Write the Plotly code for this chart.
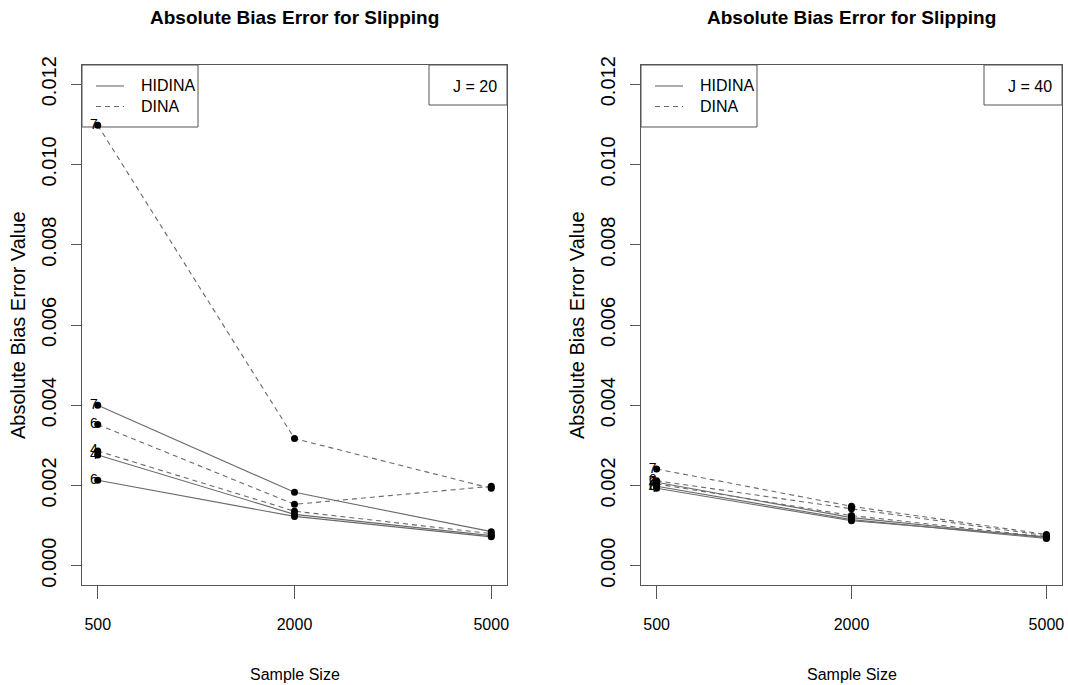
import plotly.graph_objects as go

# ---------------- data ----------------
sample_sizes = ["500", "2000", "5000"]
k_labels = ["7", "6", "4"]

# J = 20
hidina_j20_k7 = [0.00400, 0.00183, 0.00085]
hidina_j20_k6 = [0.00213, 0.00123, 0.00072]
hidina_j20_k4 = [0.00276, 0.00128, 0.00075]
dina_j20_k7 = [0.01098, 0.00317, 0.00193]
dina_j20_k6 = [0.00352, 0.00153, 0.00198]
dina_j20_k4 = [0.00286, 0.00136, 0.00080]

# J = 40
hidina_j40_k7 = [0.00208, 0.00120, 0.00070]
hidina_j40_k6 = [0.00198, 0.00115, 0.00068]
hidina_j40_k4 = [0.00193, 0.00112, 0.00072]
dina_j40_k7 = [0.00241, 0.00148, 0.00078]
dina_j40_k6 = [0.00212, 0.00142, 0.00075]
dina_j40_k4 = [0.00204, 0.00125, 0.00072]

y_ticks = [0.000, 0.002, 0.004, 0.006, 0.008, 0.010, 0.012]
titles = ["Absolute Bias Error for Slipping", "Absolute Bias Error for Slipping"]
j_labels = ["J = 20", "J = 40"]
legend_names = ["HIDINA", "DINA"]

# ---------------- style ----------------
W, H = 1068, 685
FONT = "Liberation Sans, Arial, sans-serif"
LINE_COL = "#6a6a6a"
BOX_COL = "#555555"
DASH = "5px,4px"

px_l = (82, 507)
px_r = (641, 1062)
py = (65, 585)

fig = go.Figure()

panels = [
    dict(xa="x", ya="y",
         hid=[hidina_j20_k7, hidina_j20_k6, hidina_j20_k4],
         din=[dina_j20_k7, dina_j20_k6, dina_j20_k4]),
    dict(xa="x2", ya="y2",
         hid=[hidina_j40_k7, hidina_j40_k6, hidina_j40_k4],
         din=[dina_j40_k7, dina_j40_k6, dina_j40_k4]),
]

for p in panels:
    for series_list, dash in ((p["hid"], "solid"), (p["din"], DASH)):
        for k, vals in zip(k_labels, series_list):
            fig.add_trace(go.Scatter(
                x=sample_sizes, y=vals, mode="lines", xaxis=p["xa"], yaxis=p["ya"],
                line=dict(color=LINE_COL, width=1.1, dash=dash),
                showlegend=False, hoverinfo="skip"))
    for series_list in (p["hid"], p["din"]):
        for k, vals in zip(k_labels, series_list):
            fig.add_trace(go.Scatter(
                x=sample_sizes, y=vals, mode="markers", xaxis=p["xa"], yaxis=p["ya"],
                marker=dict(color="black", size=7, line=dict(width=0)),
                showlegend=False))
            fig.add_trace(go.Scatter(
                x=sample_sizes[:1], y=vals[:1], mode="text", text=[k],
                textposition="middle left", xaxis=p["xa"], yaxis=p["ya"],
                textfont=dict(family=FONT, size=14, color="black"),
                showlegend=False))

axis_common = dict(showgrid=False, zeroline=False, showline=True, mirror=True,
                   linecolor=BOX_COL, linewidth=1, ticks="outside",
                   tickcolor=BOX_COL, tickwidth=1, automargin=False)

xaxis_common = dict(type="category", categoryorder="array", categoryarray=sample_sizes,
                    range=[-0.08, 2.08], ticklen=13, ticklabelstandoff=12,
                    tickfont=dict(family=FONT, size=16, color="black"), **axis_common)
yaxis_common = dict(domain=[1 - py[1] / H, 1 - py[0] / H], range=[-0.00048, 0.01248],
                    tickvals=y_ticks, tickformat=".3f", tickangle=-90, ticklen=10,
                    ticklabelstandoff=7,
                    tickfont=dict(family=FONT, size=20, color="black"), **axis_common)

fig.update_layout(
    width=W, height=H, margin=dict(l=0, r=0, t=0, b=0, autoexpand=False),
    plot_bgcolor="white", paper_bgcolor="white", showlegend=False,
    xaxis=dict(domain=[px_l[0] / W, px_l[1] / W], anchor="y", **xaxis_common),
    xaxis2=dict(domain=[px_r[0] / W, px_r[1] / W], anchor="y2", **xaxis_common),
    yaxis=dict(anchor="x", **yaxis_common),
    yaxis2=dict(anchor="x2", **yaxis_common),
)

shapes = []
annots = []
for i, (pxr, xa, ya) in enumerate(((px_l, "x", "y"), (px_r, "x2", "y2"))):
    x0, x1 = pxr
    cx = (x0 + x1) / 2
    pw = x1 - x0
    ph = py[1] - py[0]
    xd, yd = f"{xa} domain", f"{ya} domain"
    # title
    annots.append(dict(text=f"<b>{titles[i]}</b>", x=cx / W, y=1 - 18 / H,
                       xref="paper", yref="paper", showarrow=False,
                       font=dict(family=FONT, size=19, color="black"),
                       xanchor="center", yanchor="middle"))
    # x title
    annots.append(dict(text="Sample Size", x=cx / W, y=1 - 674 / H,
                       xref="paper", yref="paper", showarrow=False,
                       font=dict(family=FONT, size=16, color="black"),
                       xanchor="center", yanchor="middle"))
    # y title
    annots.append(dict(text="Absolute Bias Error Value", x=(x0 - 64) / W,
                       y=1 - (py[0] + py[1]) / 2 / H, textangle=-90,
                       xref="paper", yref="paper", showarrow=False,
                       font=dict(family=FONT, size=20, color="black"),
                       xanchor="center", yanchor="middle"))
    # legend box (top-left)
    lw, lh = 116 / pw, 62 / ph
    shapes.append(dict(type="rect", xref=xd, yref=yd, x0=0, x1=lw, y0=1 - lh, y1=1,
                       line=dict(color=BOX_COL, width=1), layer="below"))
    for j, (nm, dsh) in enumerate(zip(legend_names, ["solid", DASH])):
        yy = 1 - (21 + 20.5 * j) / ph
        shapes.append(dict(type="line", xref=xd, yref=yd, x0=14 / pw, x1=42 / pw,
                           y0=yy, y1=yy, line=dict(color=LINE_COL, width=1.1, dash=dsh),
                           layer="above"))
        annots.append(dict(text=nm, xref=xd, yref=yd, x=57 / pw, y=yy,
                           showarrow=False, xanchor="left", yanchor="middle",
                           font=dict(family=FONT, size=16, color="black")))
    # J box (top-right)
    jw, jh = 78 / pw, 40 / ph
    shapes.append(dict(type="rect", xref=xd, yref=yd, x0=1 - jw, x1=1, y0=1 - jh, y1=1,
                       line=dict(color=BOX_COL, width=1), layer="below"))
    annots.append(dict(text=j_labels[i], xref=xd, yref=yd, x=1 - 8 / pw, y=1 - 22 / ph,
                       showarrow=False, xanchor="right", yanchor="middle",
                       font=dict(family=FONT, size=16, color="black")))

fig.update_layout(shapes=shapes, annotations=annots)
fig.write_html("out.html", config={"displayModeBar": False},
               post_script="document.body.style.margin='0px';"
                           "document.documentElement.style.overflow='hidden';")
